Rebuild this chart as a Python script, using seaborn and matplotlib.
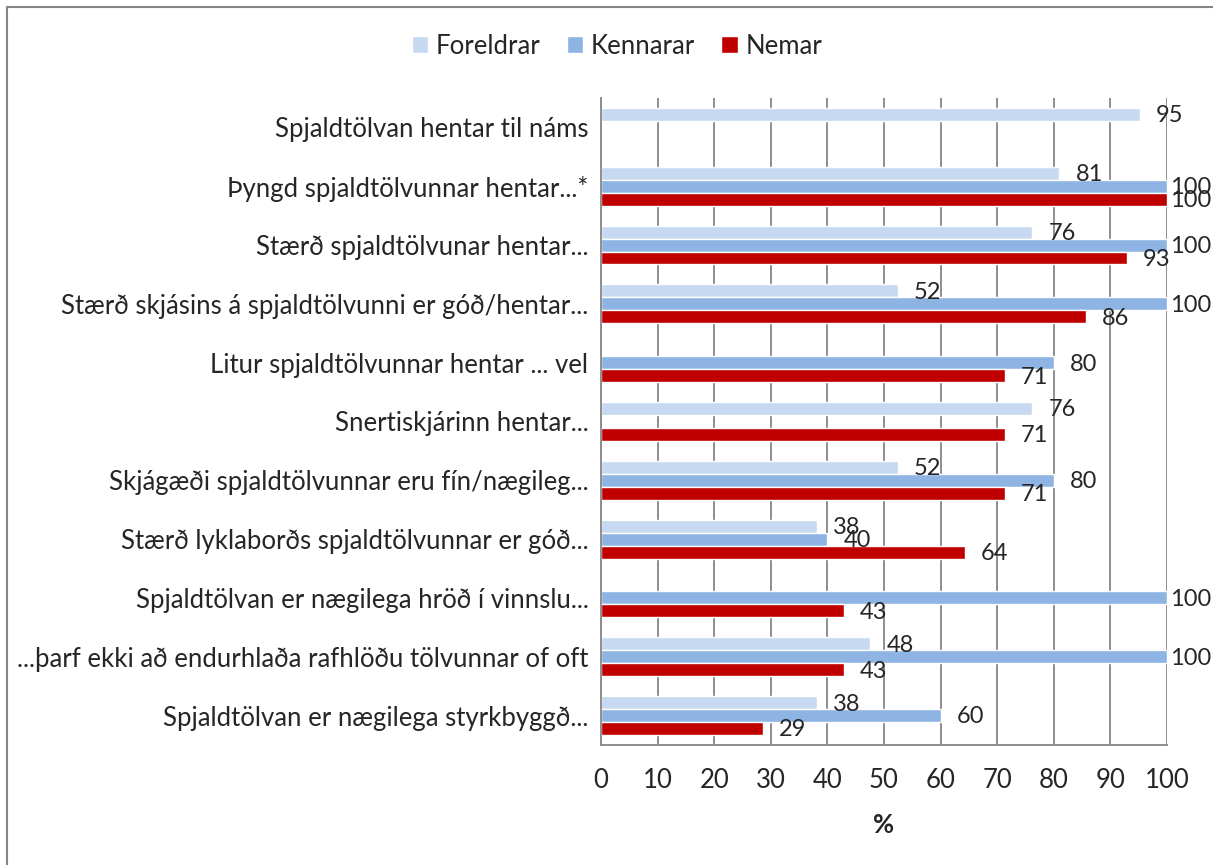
import numpy as np
import pandas as pd
import matplotlib.pyplot as plt
import seaborn as sns
from matplotlib.lines import Line2D

# spurningar, efst til neðst
spurningar = [
    "Spjaldtölvan hentar til náms",
    "Þyngd spjaldtölvunnar hentar...*",
    "Stærð spjaldtölvunar hentar...",
    "Stærð skjásins á spjaldtölvunni er góð/hentar...",
    "Litur spjaldtölvunnar hentar ... vel",
    "Snertiskjárinn hentar...",
    "Skjágæði spjaldtölvunnar eru fín/nægileg...",
    "Stærð lyklaborðs spjaldtölvunnar er góð...",
    "Spjaldtölvan er nægilega hröð í vinnslu...",
    "...þarf ekki að endurhlaða rafhlöðu tölvunnar of oft",
    "Spjaldtölvan er nægilega styrkbyggð...",
]
hopar = ["Foreldrar", "Kennarar", "Nemar"]
foreldrar = [95.2, 81.0, 76.2, 52.4, np.nan, 76.2, 52.4, 38.1, np.nan, 47.6, 38.1]
kennarar = [np.nan, 100, 100, 100, 80, np.nan, 80, 40, 100, 100, 60]
nemar = [np.nan, 100, 92.9, 85.7, 71.4, 71.4, 71.4, 64.3, 42.9, 42.9, 28.6]
litir = ["#C6D9F1", "#8EB4E3", "#C00000"]
x_ticks = list(range(0, 101, 10))

df = pd.DataFrame({
    "spurning": spurningar * 3,
    "hopur": np.repeat(hopar, len(spurningar)),
    "hlutfall": foreldrar + kennarar + nemar,
}).dropna()

sns.set_style("white")
plt.rcParams["font.family"] = ["Lato", "DejaVu Sans"]
FS = 18.5
VFS = 17
GRAY = "#868686"

fig = plt.figure(figsize=(12.13, 8.65), dpi=100)
ax = fig.add_axes([601 / 1213, 1 - 745 / 865, 566 / 1213, 647 / 865])

sns.barplot(data=df, y="spurning", x="hlutfall", hue="hopur", hue_order=hopar,
            order=spurningar, palette=litir, width=0.66, orient="h",
            saturation=1, ax=ax)

ax.set_xlim(0, 100)
ax.set_ylim(len(spurningar) - 0.5, -0.5)
ax.set_xticks(x_ticks)
ax.set_xticklabels([str(t) for t in x_ticks], fontsize=FS)
ax.set_yticks(range(len(spurningar)))
ax.set_yticklabels(spurningar, fontsize=FS)
ax.set_yticks(np.arange(-0.5, len(spurningar), 1), minor=True)
ax.tick_params(axis="y", which="major", length=0, pad=9)
ax.tick_params(axis="y", which="minor", length=5.8, width=1.3, color=GRAY, direction="out")
ax.tick_params(axis="x", length=5.8, width=1.3, color=GRAY, direction="out", pad=11)
ax.set_ylabel("")
ax.set_xlabel("%", fontsize=FS, fontweight="bold", labelpad=14)

ax.grid(axis="x", color=GRAY, linewidth=1.3)
ax.set_axisbelow(True)
for s in ["top", "right"]:
    ax.spines[s].set_visible(False)
for s in ["left", "bottom"]:
    ax.spines[s].set_color(GRAY)
    ax.spines[s].set_linewidth(1.3)

# gildismerki; merki við 100 fá minna bil svo þau haldist innan myndar
for cont in ax.containers:
    for bar in cont:
        val = bar.get_width()
        if np.isnan(val):
            continue
        yc = bar.get_y() + bar.get_height() / 2
        dx = 2.2 if val >= 99 else 11.5
        ax.annotate(f"{val:.0f}", (val, yc), xytext=(dx, -1),
                    textcoords="offset points", ha="left", va="center",
                    fontsize=VFS, annotation_clip=False)

sns.move_legend(ax, "center", bbox_to_anchor=(0.028, 1.080), ncol=3,
                frameon=False, title=None, fontsize=FS, handlelength=0.65,
                handleheight=0.65, handletextpad=0.3, columnspacing=1.0)

# rammi utan um myndina
fig.add_artist(Line2D([6.5 / 1213, 6.5 / 1213], [0, 1 - 6.5 / 865], color=GRAY, lw=1.5))
fig.add_artist(Line2D([6.5 / 1213, 1], [1 - 6.5 / 865, 1 - 6.5 / 865], color=GRAY, lw=1.5))

fig.savefig("out.png", dpi=100)
plt.close()
